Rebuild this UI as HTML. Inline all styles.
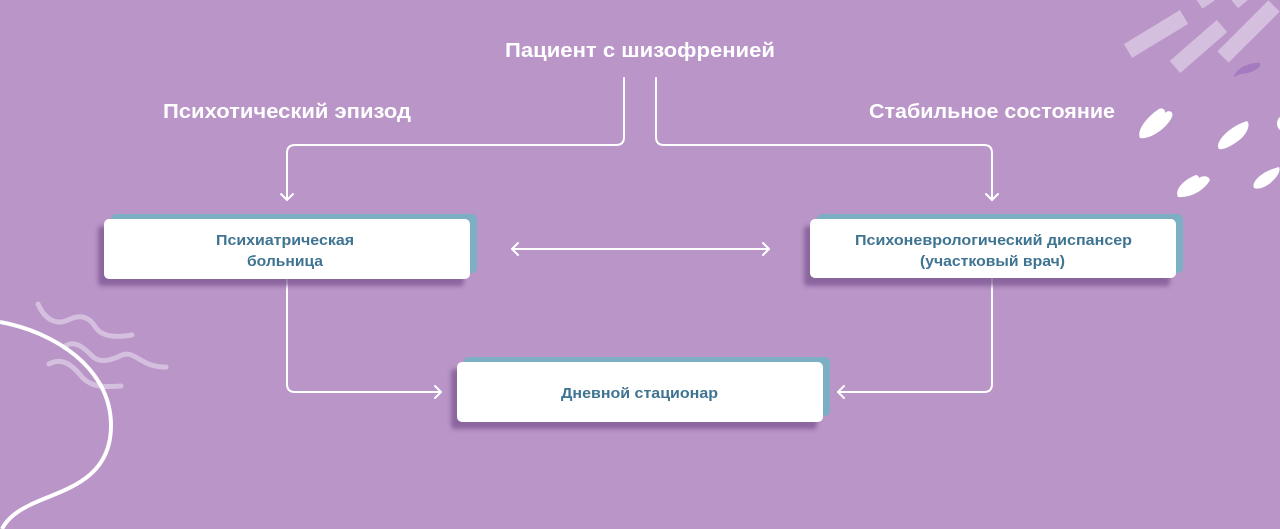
<!DOCTYPE html>
<html><head><meta charset="utf-8">
<style>
html,body{margin:0;padding:0;background:#b995c8;}
svg{display:block;}
</style></head>
<body>
<svg width="1280" height="529" viewBox="0 0 1280 529" xmlns="http://www.w3.org/2000/svg">
<defs>
<filter id="sh" x="-10%" y="-30%" width="120%" height="160%">
<feGaussianBlur stdDeviation="2.5"/>
</filter>
</defs>
<rect width="1280" height="529" fill="#b995c8"/>

<!-- decorations top right -->
<g stroke="#ffffff" stroke-opacity="0.4" stroke-width="16" stroke-linecap="butt" stroke-linejoin="round" fill="none">
<line x1="1128" y1="51" x2="1184" y2="17"/>
<line x1="1175" y1="67" x2="1222" y2="26"/>
<line x1="1223" y1="57" x2="1274" y2="6"/>
<line x1="1198" y1="2" x2="1210" y2="-6"/>
<line x1="1233" y1="2" x2="1245" y2="-8"/>
</g>
<path d="M1234,77 C1236,68 1250,62 1260,63 C1262,68 1250,74 1240,74 Z" fill="#a57abe"/>
<g fill="#ffffff">
<path d="M1140,138 C1136,130 1148,116 1159,109 C1162,107 1166,110 1165,113 C1169,109 1174,112 1172,117 C1167,128 1150,140 1140,138 Z"/>
<path d="M1219,149 C1214,142 1230,126 1247,121 C1251,124 1247,135 1238,141 C1230,147 1223,150 1219,149 Z"/>
<path d="M1178,197 C1174,189 1185,179 1196,175 C1198,175 1199,177 1199,178 C1203,175 1209,176 1210,180 C1204,191 1190,198 1178,197 Z"/>
<path d="M1254,188 C1251,182 1262,171 1279,167 C1282,172 1273,183 1264,187 C1260,189 1256,189 1254,188 Z"/>
<path d="M1280,117 C1276,120 1276,127 1280,130 Z"/>
</g>

<!-- decorations bottom left -->
<path d="M0,322 C55,332 110,368 111,424 C112,482 60,490 30,505 C15,512 6,521 2,529" stroke="#ffffff" stroke-width="4" fill="none"/>
<g stroke="#ffffff" stroke-opacity="0.4" stroke-width="5" stroke-linecap="round" fill="none">
<path d="M38,304 C44,318 55,326 68,320 C82,313 90,318 96,328 C102,336 115,338 132,335"/>
<path d="M64,347 C72,340 82,345 92,356 C100,364 112,360 122,355 C135,350 142,368 166,367"/>
<path d="M49,364 C60,358 70,362 82,377 C92,388 106,387 121,386"/>
</g>

<!-- labels -->
<g font-family="'Liberation Sans', 'DejaVu Sans', sans-serif" font-weight="bold" fill="#ffffff">
<text x="505" y="57" font-size="20" textLength="270" lengthAdjust="spacingAndGlyphs">Пациент с шизофренией</text>
<text x="163" y="118" font-size="20" textLength="248" lengthAdjust="spacingAndGlyphs">Психотический эпизод</text>
<text x="869" y="118" font-size="20" textLength="246" lengthAdjust="spacingAndGlyphs">Стабильное состояние</text>
</g>

<!-- connectors -->
<g stroke="#ffffff" stroke-width="2" fill="none" stroke-linecap="round" stroke-linejoin="round">
<path d="M624,78 V137 Q624,145 616,145 H295 Q287,145 287,153 V200"/>
<path d="M281,194 L287,200 L293,194"/>
<path d="M656,78 V137 Q656,145 664,145 H984 Q992,145 992,153 V200"/>
<path d="M986,194 L992,200 L998,194"/>
<path d="M512,249 H769"/>
<path d="M518,243 L512,249 L518,255"/>
<path d="M763,243 L769,249 L763,255"/>
<path d="M287,279 V384 Q287,392 295,392 H441"/>
<path d="M435,386 L441,392 L435,398"/>
<path d="M992,278 V384 Q992,392 984,392 H838"/>
<path d="M844,386 L838,392 L844,398"/>
</g>

<!-- boxes -->
<g>
<rect x="98" y="226" width="366" height="60" rx="4" fill="#7a5590" opacity="0.75" filter="url(#sh)"/>
<rect x="111" y="214" width="366" height="59" rx="5" fill="#7cafc3"/>
<rect x="104" y="219" width="366" height="60" rx="5" fill="#ffffff"/>

<rect x="804" y="226" width="366" height="60" rx="4" fill="#7a5590" opacity="0.75" filter="url(#sh)"/>
<rect x="817" y="214" width="366" height="59" rx="5" fill="#7cafc3"/>
<rect x="810" y="219" width="366" height="59" rx="5" fill="#ffffff"/>

<rect x="451" y="369" width="366" height="60" rx="4" fill="#7a5590" opacity="0.75" filter="url(#sh)"/>
<rect x="464" y="357" width="366" height="59" rx="5" fill="#7cafc3"/>
<rect x="457" y="362" width="366" height="60" rx="5" fill="#ffffff"/>
</g>

<g font-family="'Liberation Sans', 'DejaVu Sans', sans-serif" font-weight="bold" fill="#3e7391" font-size="15">
<text x="216" y="245" textLength="138" lengthAdjust="spacingAndGlyphs">Психиатрическая</text>
<text x="247" y="266" textLength="76" lengthAdjust="spacingAndGlyphs">больница</text>
<text x="855" y="245" textLength="277" lengthAdjust="spacingAndGlyphs">Психоневрологический диспансер</text>
<text x="920" y="266" textLength="145" lengthAdjust="spacingAndGlyphs">(участковый врач)</text>
<text x="561" y="398" textLength="157" lengthAdjust="spacingAndGlyphs">Дневной стационар</text>
</g>
</svg>
</body></html>
